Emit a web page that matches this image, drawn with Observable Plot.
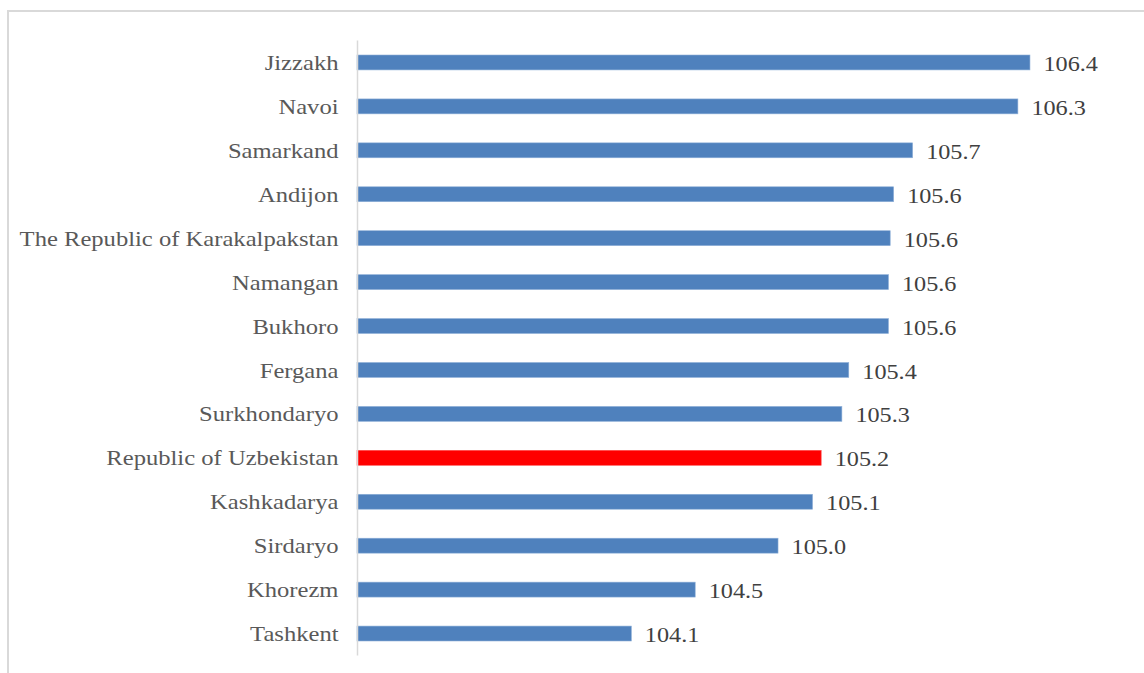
<!DOCTYPE html>
<html>
<head>
<meta charset="utf-8">
<script src="https://cdn.jsdelivr.net/npm/d3@7"></script>
<script src="https://cdn.jsdelivr.net/npm/@observablehq/plot@0.6"></script>
<style>
  html, body { margin: 0; padding: 0; background: #fff; }
  body { width: 1144px; height: 673px; position: relative; overflow: hidden; }
  #frame { position: absolute; left: 7px; top: 10px; width: 1160px; height: 700px; border: 2px solid #d9d9d9; box-sizing: border-box; }
  #chart { position: absolute; left: 0; top: 0; }
  #chart svg, #chart svg text { font-family: "Liberation Serif", "Times New Roman", serif !important; }
</style>
</head>
<body>
<div id="frame"></div>
<div id="chart"></div>
<script>
const regions = ["Jizzakh", "Navoi", "Samarkand", "Andijon", "The Republic of Karakalpakstan", "Namangan", "Bukhoro", "Fergana", "Surkhondaryo", "Republic of Uzbekistan", "Kashkadarya", "Sirdaryo", "Khorezm", "Tashkent"];
const values = [106.40, 106.33, 105.72, 105.61, 105.59, 105.58, 105.58, 105.35, 105.31, 105.19, 105.14, 104.94, 104.46, 104.09];
const valueLabels = ["106.4", "106.3", "105.7", "105.6", "105.6", "105.6", "105.6", "105.4", "105.3", "105.2", "105.1", "105.0", "104.5", "104.1"];
const highlight = "Republic of Uzbekistan";

const data = regions.map((r, i) => ({region: r, value: values[i], label: valueLabels[i], hl: r === highlight}));

const chart = Plot.plot({
  width: 1144,
  height: 673,
  marginLeft: 357,
  marginRight: 10.5,
  marginTop: 40.5,
  marginBottom: 17.5,
  style: {background: "transparent", overflow: "visible"},
  x: {domain: [102.5, 107], axis: null},
  y: {domain: regions, padding: 0, round: false, label: null},
  marks: [
    Plot.barX(data, {
      x1: 102.5, x2: "value", y: "region",
      fill: d => d.hl ? "#ff0000" : "#4f81bd",
      stroke: d => d.hl ? "#ff4d4d" : "#8fb0d8", strokeWidth: 0.6,
      insetTop: 14.5, insetBottom: 14.5
    }),
    Plot.ruleX([102.5], {stroke: "#d9d9d9", strokeWidth: 1.5}),
    Plot.text(data, {
      x: "value", y: "region", text: "label",
      textAnchor: "start", dx: 13, dy: 1,
      fontSize: 22, fill: "#404040", className: "vlabels"
    }),
    Plot.axisY({tickSize: 0, tickPadding: 19, fontSize: 22, color: "#595959", label: null, className: "ylabels"})
  ]
});
document.getElementById("chart").appendChild(chart);
// widen glyphs slightly to match the reference's stretched type
function stretch(sel, k) {
  d3.select(chart).selectAll(sel).each(function() {
    const len = this.getComputedTextLength();
    if (len > 0) {
      this.setAttribute("textLength", (len * k).toFixed(1));
      this.setAttribute("lengthAdjust", "spacingAndGlyphs");
    }
  });
}
stretch(".vlabels text", 1.1);
stretch(".ylabels text", 1.118);
</script>
</body>
</html>
